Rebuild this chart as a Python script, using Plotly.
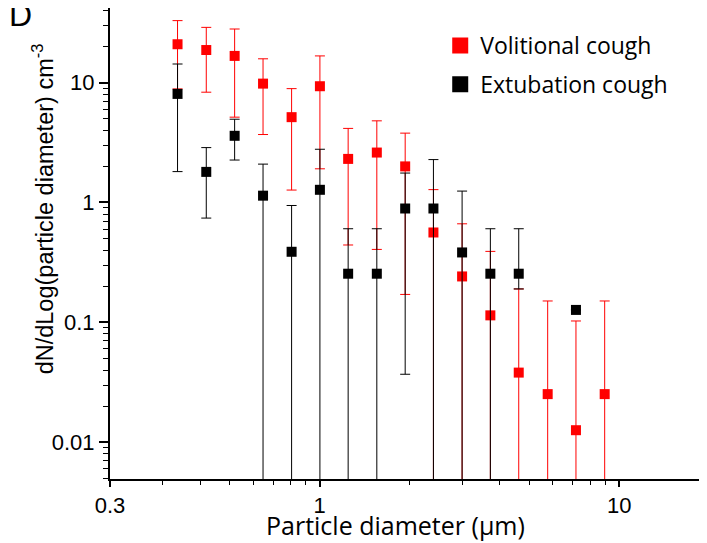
import plotly.graph_objects as go

# ---- data ----
diam_red = [0.336, 0.419, 0.521, 0.648, 0.807, 1.003, 1.246, 1.553, 1.931, 2.399, 2.99, 3.715, 4.62, 5.77, 7.17, 8.94]
vol_val = [20.9, 18.7, 16.7, 9.81, 5.15, 9.33, 2.31, 2.61, 2.0, 0.562, 0.2416, 0.1144, 0.0381, 0.0252, 0.0126, 0.0252]
vol_hi = [32.9, 28.9, 28.0, 15.8, 8.91, 16.7, 4.15, 4.80, 3.79, 1.28, 0.664, 0.391, 0.19, 0.1508, 0.1027, 0.1508]
vol_lo = [8.86, 8.32, 5.15, 3.69, 1.27, 1.91, 0.442, 0.406, 0.171, 0, 0, 0, 0, 0, 0, 0]

diam_blk = [0.336, 0.419, 0.521, 0.648, 0.807, 1.003, 1.246, 1.553, 1.931, 2.399, 2.99, 3.715, 4.62, 7.17]
ext_val = [8.05, 1.80, 3.60, 1.14, 0.388, 1.276, 0.2546, 0.2546, 0.891, 0.891, 0.383, 0.2546, 0.2546, 0.127]
ext_hi = [14.3, 2.87, 4.95, 2.09, 0.944, 2.78, 0.604, 0.604, 1.76, 2.28, 1.245, 0.604, 0.604, 0.127]
ext_lo = [1.81, 0.741, 2.26, 0, 0, 0, 0, 0, 0.0369, 0, 0, 0, 0.19, 0.127]

x_tickvals = [0.2, 1, 10]
x_ticktext = ["0.3", "1", "10"]
y_tickvals = [0.01, 0.1, 1, 10]
y_ticktext = ["0.01", "0.1", "1", "10"]

OFF = 8  # default page body margin
W, H = 707 - OFF, 543 - OFF
ML, MR, MT = 109.5 - OFF, 0, 0
MB = H - (479.5 - OFF)
PW, PH = W - ML - MR, H - MT - MB


def px2paper_x(px):
    return (px - OFF - ML) / PW


def px2paper_y(py):
    return (H - MB - (py - OFF)) / PH


def errs(val, hi, lo):
    plus = [h - v for v, h in zip(val, hi)]
    minus = [v - l for v, l in zip(val, lo)]
    return plus, minus


vp, vm = errs(vol_val, vol_hi, vol_lo)
ep, em = errs(ext_val, ext_hi, ext_lo)

fig = go.Figure()
fig.add_trace(go.Scatter(
    x=diam_red, y=vol_val, mode="markers", showlegend=False,
    marker=dict(symbol="square", size=10, color="#ff0000", line=dict(width=0)),
    error_y=dict(type="data", symmetric=False, array=vp, arrayminus=vm,
                 color="#ff0000", thickness=1, width=5),
))
fig.add_trace(go.Scatter(
    x=diam_blk, y=ext_val, mode="markers", showlegend=False,
    marker=dict(symbol="square", size=10, color="#000000", line=dict(width=0)),
    error_y=dict(type="data", symmetric=False, array=ep, arrayminus=em,
                 color="#000000", thickness=1, width=5),
))
# legend entries
fig.add_trace(go.Scatter(
    x=[None], y=[None], mode="markers", name="Volitional cough", legendgroup="a",
    marker=dict(symbol="square", size=16, color="#ff0000"),
))
fig.add_trace(go.Scatter(
    x=[None], y=[None], mode="markers", name="Extubation cough", legendgroup="b",
    marker=dict(symbol="square", size=16, color="#000000"),
))

y_bot = -2.3067
fig.update_layout(
    width=W, height=H,
    margin=dict(l=ML, r=MR, t=MT, b=MB, autoexpand=False),
    paper_bgcolor="white", plot_bgcolor="white",
    font=dict(family="Liberation Sans, Arial, sans-serif", size=22, color="black"),
    showlegend=True,
    legend=dict(x=px2paper_x(440), y=px2paper_y(24), xanchor="left", yanchor="top",
                font=dict(family="Open Sans, sans-serif", size=23, color="black"),
                bgcolor="rgba(0,0,0,0)", traceorder="grouped", tracegroupgap=6,
                itemsizing="trace"),
    xaxis=dict(type="log", range=[-0.69897, -0.69897 + PW / 300.0],
               tickmode="array", tickvals=x_tickvals, ticktext=x_ticktext,
               ticks="outside", ticklen=6, tickwidth=1.5, tickcolor="black",
               showline=True, linecolor="black", linewidth=2, showgrid=False, zeroline=False,
               tickfont=dict(family="Liberation Sans, Arial, sans-serif", size=22),
               minor=dict(ticks="outside", ticklen=4, tickwidth=1, tickcolor="black",
                          dtick="D1", showgrid=False)),
    yaxis=dict(type="log", range=[y_bot, y_bot + PH / 120.0],
               tickmode="array", tickvals=y_tickvals, ticktext=y_ticktext,
               ticks="outside", ticklen=9, tickwidth=1.5, tickcolor="black",
               showline=True, linecolor="black", linewidth=2, showgrid=False, zeroline=False,
               tickfont=dict(family="Liberation Sans, Arial, sans-serif", size=22),
               minor=dict(ticks="outside", ticklen=5, tickwidth=1, tickcolor="black",
                          dtick="D1", showgrid=False)),
    annotations=[
        dict(text="dN/dLog(particle diameter) cm<sup>-3</sup>", textangle=-90,
             xref="paper", yref="paper", x=px2paper_x(42), y=px2paper_y(209),
             xanchor="center", yanchor="middle", showarrow=False,
             font=dict(family="Liberation Sans, Arial, sans-serif", size=23.5)),
        dict(text="Particle diameter (µm)",
             xref="paper", yref="paper", x=px2paper_x(395), y=px2paper_y(526),
             xanchor="center", yanchor="middle", showarrow=False,
             font=dict(family="Open Sans, sans-serif", size=25)),
        dict(text="D", xref="paper", yref="paper", x=px2paper_x(20), y=px2paper_y(15),
             xanchor="center", yanchor="middle", showarrow=False,
             font=dict(family="Liberation Sans, Arial, sans-serif", size=32)),
    ],
)

fig.write_html("out.html")
